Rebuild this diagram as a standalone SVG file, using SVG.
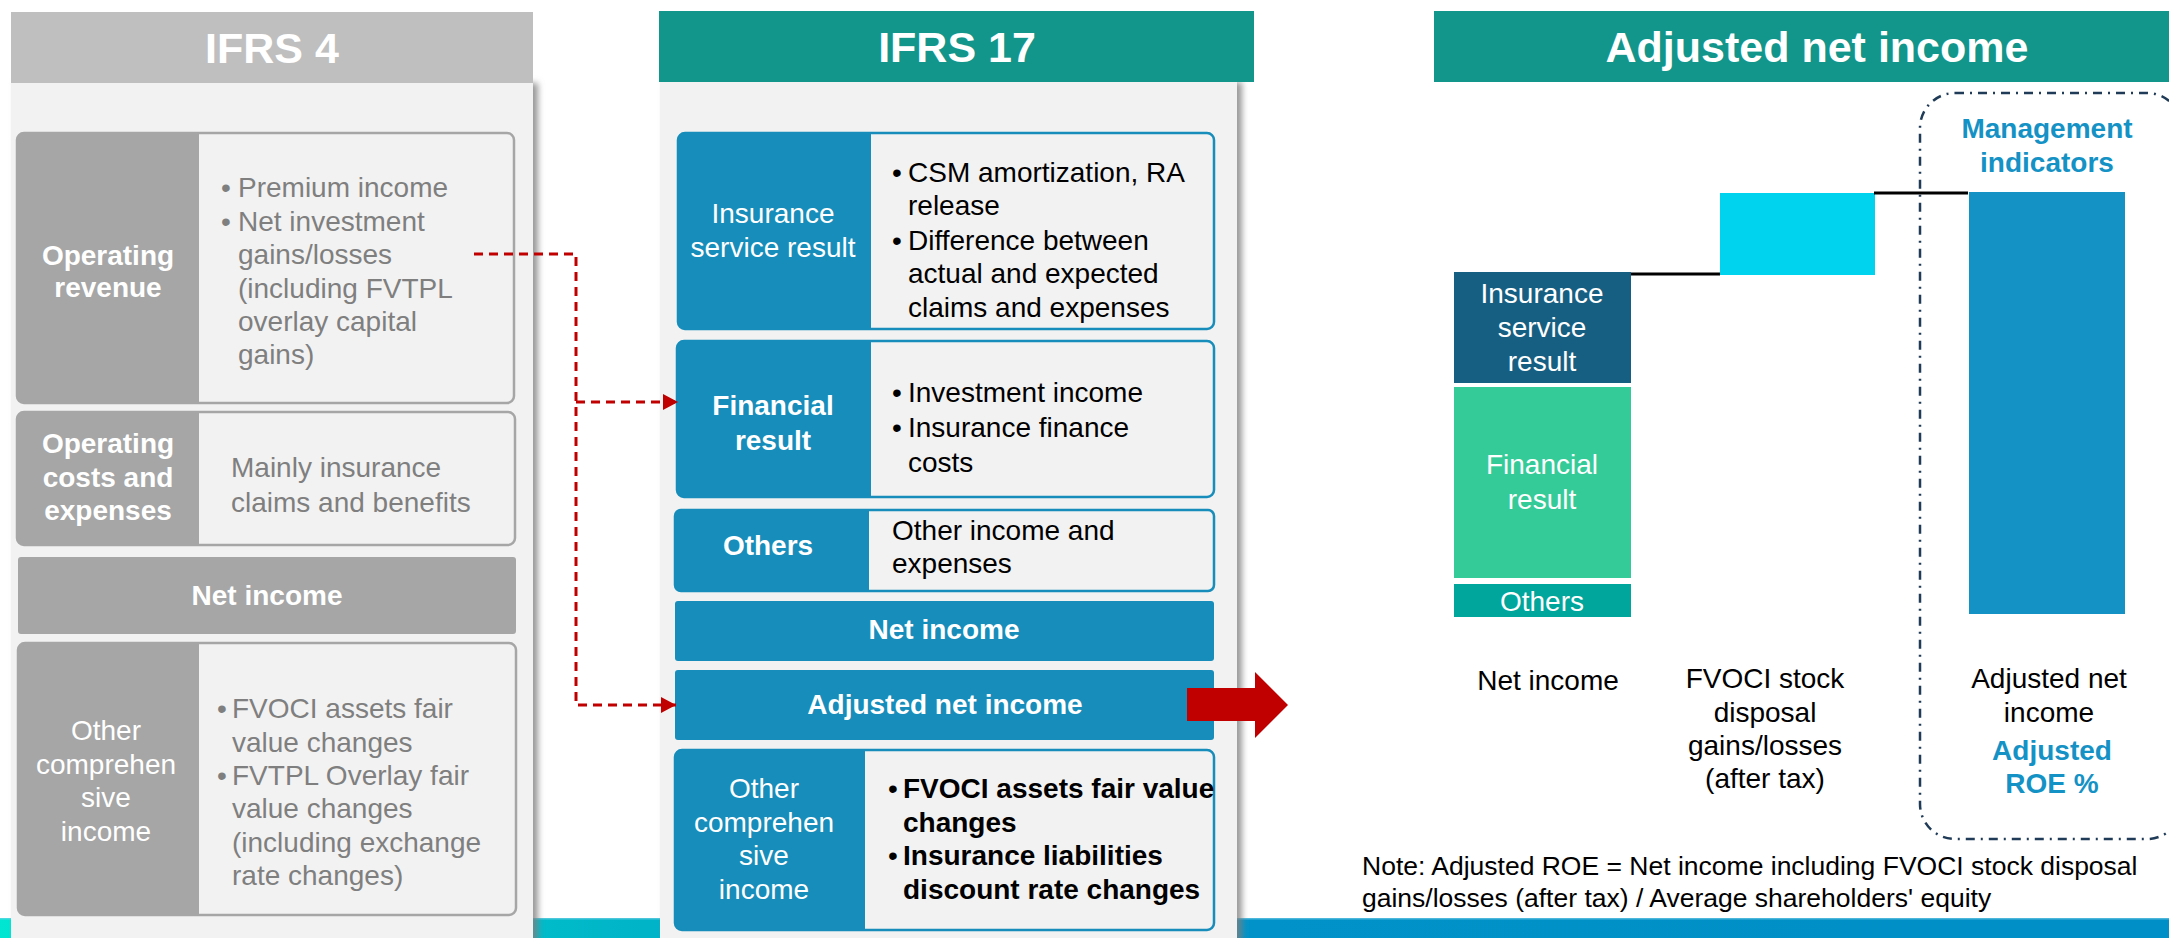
<svg xmlns="http://www.w3.org/2000/svg" width="2169" height="938" viewBox="0 0 2169 938">
<defs>
<style>
text{font-family:"Liberation Sans",Arial,sans-serif;font-size:28px}
.w{fill:#ffffff}
.k{fill:#000000}
.g{fill:#7f7f7f}
.bl{fill:#1592c5}
.b{font-weight:bold}
.m{text-anchor:middle}
.h{font-size:43px;font-weight:bold;fill:#ffffff;text-anchor:middle}
.gbox{fill:#a6a6a6}
.gcard{fill:#f2f2f2;stroke:#a6a6a6;stroke-width:2.5}
.bbox{fill:#168dba}
.bcard{fill:#f2f2f2;stroke:#168dba;stroke-width:2.5}
.dash{fill:none;stroke:#c00000;stroke-width:3;stroke-dasharray:9 6}
.step{stroke:#000000;stroke-width:3}
</style>
<linearGradient id="stripe" x1="0" y1="0" x2="1" y2="0">
<stop offset="0" stop-color="#00e6d2"/>
<stop offset="0.28" stop-color="#00b6c8"/>
<stop offset="0.58" stop-color="#0092c8"/>
<stop offset="1" stop-color="#008fc6"/>
</linearGradient>
<filter id="shadow" x="-5%" y="-5%" width="112%" height="110%">
<feDropShadow dx="5" dy="0" stdDeviation="3" flood-color="#7f7f7f" flood-opacity="0.8"/>
</filter>
<marker id="arr" markerUnits="userSpaceOnUse" markerWidth="16" markerHeight="16" refX="15" refY="8" orient="auto">
<path d="M0,0 L15,8 L0,16 z" fill="#c00000"/>
</marker>
</defs>

<rect x="0" y="0" width="2169" height="938" fill="#ffffff"/>
<rect id="bottom-stripe" x="0" y="918" width="2169" height="20" fill="url(#stripe)"/>
<rect x="0" y="918" width="2169" height="1.5" fill="#7fd0e8" opacity="0.6"/>

<!-- IFRS 4 column -->
<g id="ifrs4-panel">
<rect x="11" y="83" width="522" height="860" fill="#f2f2f2" filter="url(#shadow)"/>
<rect x="11" y="12" width="522" height="71" fill="#bfbfbf"/>
<text class="h" x="272" y="63">IFRS 4</text>
</g>

<g id="ifrs4-operating-revenue">
<rect class="gcard" x="17" y="133" width="497" height="270" rx="7"/>
<path class="gbox" d="M24,133 H199 V403 H24 A7,7 0 0 1 17,396 V140 A7,7 0 0 1 24,133 z"/>
<text class="w b m" x="108" y="265">Operating</text>
<text class="w b m" x="108" y="297">revenue</text>
<text class="g" x="221" y="197">•</text><text class="g" x="238" y="197">Premium income</text>
<text class="g" x="221" y="231">•</text><text class="g" x="238" y="231">Net investment</text>
<text class="g" x="238" y="264">gains/losses</text>
<text class="g" x="238" y="298">(including FVTPL</text>
<text class="g" x="238" y="331">overlay capital</text>
<text class="g" x="238" y="364">gains)</text>
</g>

<g id="ifrs4-operating-costs">
<rect class="gcard" x="17" y="412" width="498" height="133" rx="7"/>
<path class="gbox" d="M24,412 H199 V545 H24 A7,7 0 0 1 17,538 V419 A7,7 0 0 1 24,412 z"/>
<text class="w b m" x="108" y="453">Operating</text>
<text class="w b m" x="108" y="487">costs and</text>
<text class="w b m" x="108" y="520">expenses</text>
<text class="g" x="231" y="477">Mainly insurance</text>
<text class="g" x="231" y="512">claims and benefits</text>
</g>

<g id="ifrs4-net-income">
<rect class="gbox" x="18" y="557" width="498" height="77" rx="3"/>
<text class="w b m" x="267" y="605">Net income</text>
</g>

<g id="ifrs4-oci">
<rect class="gcard" x="18" y="643" width="498" height="272" rx="7"/>
<path class="gbox" d="M25,643 H199 V915 H25 A7,7 0 0 1 18,908 V650 A7,7 0 0 1 25,643 z"/>
<text class="w m" x="106" y="740">Other</text>
<text class="w m" x="106" y="774">comprehen</text>
<text class="w m" x="106" y="807">sive</text>
<text class="w m" x="106" y="841">income</text>
<text class="g" x="217" y="718">•</text><text class="g" x="232" y="718">FVOCI assets fair</text>
<text class="g" x="232" y="752">value changes</text>
<text class="g" x="217" y="785">•</text><text class="g" x="232" y="785">FVTPL Overlay fair</text>
<text class="g" x="232" y="818">value changes</text>
<text class="g" x="232" y="852">(including exchange</text>
<text class="g" x="232" y="885">rate changes)</text>
</g>

<!-- IFRS 17 column -->
<g id="ifrs17-panel">
<rect x="660" y="82" width="577" height="861" fill="#f2f2f2" filter="url(#shadow)"/>
<rect x="659" y="11" width="595" height="71" fill="#12968b"/>
<text class="h" x="957" y="62">IFRS 17</text>
</g>

<g id="ifrs17-insurance-service-result">
<rect class="bcard" x="678" y="133" width="536" height="196" rx="7"/>
<path class="bbox" d="M685,133 H871 V329 H685 A7,7 0 0 1 678,322 V140 A7,7 0 0 1 685,133 z"/>
<text class="w m" x="773" y="223">Insurance</text>
<text class="w m" x="773" y="257">service result</text>
<text class="k" x="892" y="182">•</text><text class="k" x="908" y="182">CSM amortization, RA</text>
<text class="k" x="908" y="215">release</text>
<text class="k" x="892" y="250">•</text><text class="k" x="908" y="250">Difference between</text>
<text class="k" x="908" y="283">actual and expected</text>
<text class="k" x="908" y="317">claims and expenses</text>
</g>

<g id="ifrs17-financial-result">
<rect class="bcard" x="677" y="341" width="537" height="156" rx="7"/>
<path class="bbox" d="M684,341 H871 V497 H684 A7,7 0 0 1 677,490 V348 A7,7 0 0 1 684,341 z"/>
<text class="w b m" x="773" y="415">Financial</text>
<text class="w b m" x="773" y="450">result</text>
<text class="k" x="892" y="402">•</text><text class="k" x="908" y="402">Investment income</text>
<text class="k" x="892" y="437">•</text><text class="k" x="908" y="437">Insurance finance</text>
<text class="k" x="908" y="472">costs</text>
</g>

<g id="ifrs17-others">
<rect class="bcard" x="675" y="510" width="539" height="81" rx="6"/>
<path class="bbox" d="M681,510 H869 V591 H681 A6,6 0 0 1 675,585 V516 A6,6 0 0 1 681,510 z"/>
<text class="w b m" x="768" y="555">Others</text>
<text class="k" x="892" y="540">Other income and</text>
<text class="k" x="892" y="573">expenses</text>
</g>

<g id="ifrs17-net-income">
<rect class="bbox" x="675" y="601" width="539" height="60" rx="3"/>
<text class="w b m" x="944" y="639">Net income</text>
</g>

<g id="ifrs17-adjusted-net-income">
<rect class="bbox" x="675" y="670" width="539" height="70" rx="3"/>
<text class="w b m" x="945" y="714">Adjusted net income</text>
</g>

<g id="ifrs17-oci">
<rect class="bcard" x="675" y="750" width="539" height="180" rx="7"/>
<path class="bbox" d="M682,750 H865 V930 H682 A7,7 0 0 1 675,923 V757 A7,7 0 0 1 682,750 z"/>
<text class="w m" x="764" y="798">Other</text>
<text class="w m" x="764" y="832">comprehen</text>
<text class="w m" x="764" y="865">sive</text>
<text class="w m" x="764" y="899">income</text>
<text class="k" x="888" y="798">•</text><text class="k b" x="903" y="798">FVOCI assets fair value</text>
<text class="k b" x="903" y="832">changes</text>
<text class="k" x="888" y="865">•</text><text class="k b" x="903" y="865">Insurance liabilities</text>
<text class="k b" x="903" y="899">discount rate changes</text>
</g>

<!-- Adjusted net income chart -->
<g id="chart-header">
<rect x="1434" y="11" width="740" height="71" fill="#12968b"/>
<text class="h" x="1817" y="62">Adjusted net income</text>
</g>

<g id="management-box">
<rect x="1920" y="93" width="262" height="746" rx="35" fill="none" stroke="#1f3b57" stroke-width="2.5" stroke-dasharray="9 6 2 6"/>
<text class="bl b m" x="2047" y="138">Management</text>
<text class="bl b m" x="2047" y="172">indicators</text>
</g>

<g id="bar-net-income">
<rect x="1454" y="272" width="177" height="111" fill="#175f82"/>
<rect x="1454" y="387" width="177" height="191" fill="#34cb98"/>
<rect x="1454" y="584" width="177" height="33" fill="#00a69b"/>
<text class="w m" x="1542" y="303">Insurance</text>
<text class="w m" x="1542" y="337">service</text>
<text class="w m" x="1542" y="371">result</text>
<text class="w m" x="1542" y="474">Financial</text>
<text class="w m" x="1542" y="509">result</text>
<text class="w m" x="1542" y="611">Others</text>
<text class="k m" x="1548" y="690">Net income</text>
</g>

<g id="bar-fvoci">
<rect x="1720" y="193" width="155" height="82" fill="#00d3ee"/>
<text class="k m" x="1765" y="688">FVOCI stock</text>
<text class="k m" x="1765" y="722">disposal</text>
<text class="k m" x="1765" y="755">gains/losses</text>
<text class="k m" x="1765" y="788">(after tax)</text>
</g>

<g id="bar-adjusted">
<rect x="1969" y="192" width="156" height="422" fill="#1592c5"/>
<text class="k m" x="2049" y="688">Adjusted net</text>
<text class="k m" x="2049" y="722">income</text>
<text class="bl b m" x="2052" y="760">Adjusted</text>
<text class="bl b m" x="2052" y="793">ROE %</text>
</g>

<g id="note">
<text class="k" x="1362" y="875" style="font-size:26.5px">Note: Adjusted ROE = Net income including FVOCI stock disposal</text>
<text class="k" x="1362" y="907" style="font-size:26.5px">gains/losses (after tax) / Average shareholders' equity</text>
</g>

<!-- Connectors -->
<g id="connectors">
<path class="dash" d="M474,254 H576 V705 H676" marker-end="url(#arr)"/>
<path class="dash" d="M576,402 H678" marker-end="url(#arr)"/>
<polygon points="1187,688 1255,688 1255,672 1288,705 1255,738 1255,721 1187,721" fill="#c00000"/>
<line class="step" x1="1631" y1="274" x2="1720" y2="274"/>
<line class="step" x1="1874" y1="193" x2="1968" y2="193"/>
</g>
</svg>
